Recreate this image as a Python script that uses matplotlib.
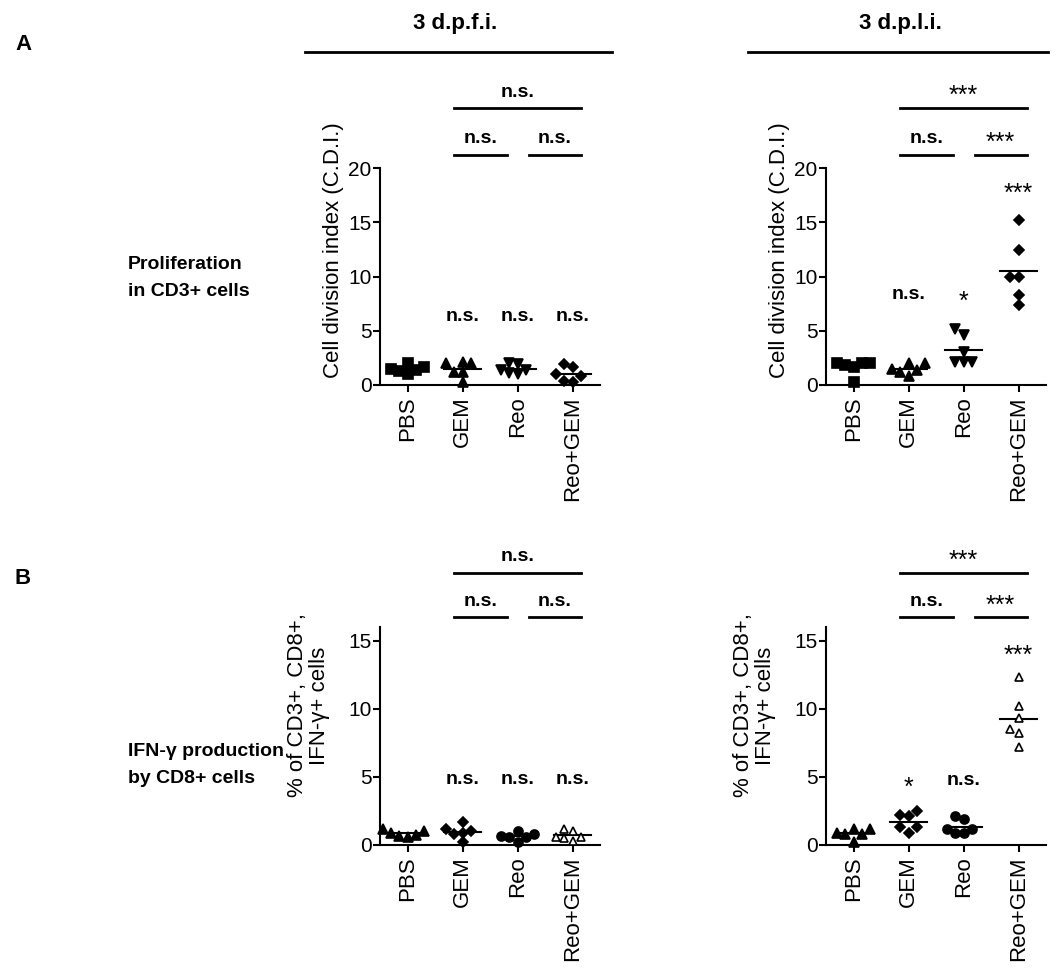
import numpy as np
import matplotlib.pyplot as plt

plt.rcParams['font.family'] = ['Liberation Sans', 'DejaVu Sans']

W, H = 1053, 976

groups = ['PBS', 'GEM', 'Reo', 'Reo+GEM']

# Cell division index, 3 d.p.f.i. / 3 d.p.l.i.
cdi_dpfi = [[2.0, 1.7, 1.5, 1.4, 1.0, 1.3],
            [2.0, 1.2, 2.0, 1.2, 0.3, 2.1],
            [2.0, 1.9, 1.4, 1.0, 1.1, 1.4],
            [1.9, 1.7, 1.0, 0.8, 0.3, 0.4]]
cdi_dpli = [[2.0, 1.8, 2.0, 2.0, 0.3, 1.7],
            [2.0, 2.0, 1.5, 1.4, 0.8, 1.2],
            [5.2, 4.6, 3.0, 2.1, 2.1, 2.1],
            [15.2, 12.4, 10.0, 10.0, 8.3, 7.4]]

# % of CD3+, CD8+, IFN-g+ cells
ifn_dpfi = [[1.0, 0.9, 1.2, 0.65, 0.6, 0.75],
            [1.7, 0.9, 1.2, 1.0, 0.8, 0.2],
            [0.65, 0.8, 1.0, 0.6, 0.25, 0.6],
            [1.2, 1.0, 0.6, 0.5, 0.3, 0.6]]
ifn_dpli = [[1.2, 1.2, 0.85, 0.8, 0.25, 0.8],
            [2.2, 2.15, 2.5, 1.3, 1.3, 0.85],
            [2.1, 1.9, 1.2, 0.85, 0.85, 1.2],
            [12.3, 10.2, 9.3, 8.5, 8.2, 7.2]]

# significance vs PBS, and between groups
sig_a_left = ['', 'n.s.', 'n.s.', 'n.s.']
sig_a_right = ['', 'n.s.', '*', '***']
sig_b_left = ['', 'n.s.', 'n.s.', 'n.s.']
sig_b_right = ['', '*', 'n.s.', '***']
brk_a_left = ['n.s.', 'n.s.', 'n.s.']     # GEM-Reo+GEM, GEM-Reo, Reo-Reo+GEM
brk_a_right = ['***', 'n.s.', '***']
brk_b_left = ['n.s.', 'n.s.', 'n.s.']
brk_b_right = ['***', 'n.s.', '***']


def swarm(vals, ythr, step=0.15):
    vals = np.asarray(vals)
    offs = np.zeros(len(vals))
    placed = []
    for i in np.argsort(vals):
        for c in [0, -step, step, -2 * step, 2 * step, -3 * step, 3 * step]:
            if all(abs(vals[i] - vals[j]) > ythr or abs(c - offs[j]) > step * 0.9 for j in placed):
                offs[i] = c
                break
        placed.append(i)
    return offs


def sig_text(ax, i, s, y):
    if s == 'n.s.':
        ax.text(i, y, s, ha='center', va='center', fontsize=14, fontweight='bold')
    elif s:
        ax.text(i, y - 0.5 * (ax.get_ylim()[1] / 20), s, ha='center', va='center', fontsize=18)


def panel(rect, data, markers, filled, ymax, yticks, ylabel, ylab_pos, sig, sig_y, brk, brk_y):
    x0, ytop, x1, ybot = rect
    ax = fig.add_axes([x0 / W, 1 - ybot / H, (x1 - x0) / W, (ybot - ytop) / H])
    ythr = ymax * 0.04
    for i, vals in enumerate(data):
        offs = swarm(vals, ythr)
        fc = 'black' if filled[i] else 'white'
        ms = 7.5 if markers[i] in ('^', 'v') else 6.5
        if markers[i] == 'D':
            ms = 5.5
        if not filled[i]:
            ms = 6
        ax.plot(i + offs, vals, linestyle='none', marker=markers[i], ms=ms,
                mfc=fc, mec='black', mew=1.2, clip_on=False, zorder=3)
        m = np.mean(vals)
        ax.plot([i - 0.33, i + 0.33], [m, m], color='black', lw=1.5, zorder=2)
    for i, s in enumerate(sig):
        if s:
            sig_text(ax, i, s, sig_y[i])
    # brackets
    spans = [(0.85, 3.15), (0.85, 1.8), (2.2, 3.15)]
    ys = [brk_y[0], brk_y[1], brk_y[1]]
    for (a, b), y, s in zip(spans, ys, brk):
        ax.plot([a, b], [y, y], color='black', lw=2, clip_on=False)
        if s == 'n.s.':
            ax.text((a + b) / 2, y + ymax * 0.035, s, ha='center', va='bottom',
                    fontsize=14, fontweight='bold')
        else:
            ax.text((a + b) / 2, y, s, ha='center', va='bottom', fontsize=18)
    ax.set_xlim(-0.5, 3.5)
    ax.set_ylim(0, ymax)
    ax.set_yticks(yticks)
    ax.set_xticks(range(4))
    ax.set_xticklabels(groups, rotation=90, fontsize=16)
    ax.tick_params(axis='y', labelsize=15, width=1.5, length=5, pad=1)
    ax.tick_params(axis='x', width=1.5, length=5, pad=3)
    for sp in ['top', 'right']:
        ax.spines[sp].set_visible(False)
    for sp in ['left', 'bottom']:
        ax.spines[sp].set_linewidth(1.5)
    ax.set_ylabel(ylabel, fontsize=16, linespacing=1.1)
    ax.yaxis.set_label_coords(*ylab_pos)
    ax.patch.set_alpha(0)
    return ax


fig = plt.figure(figsize=(W / 100, H / 100), dpi=100)

lab_a = 'Cell division index (C.D.I.)'
lab_b = '% of CD3+, CD8+,\nIFN-γ+ cells'
panel((380, 168, 600, 385), cdi_dpfi, ['s', '^', 'v', 'D'], [1, 1, 1, 1], 20, [0, 5, 10, 15, 20],
      lab_a, (-0.165, 0.62), sig_a_left, [0, 6.3, 6.3, 6.3], brk_a_left, [25.5, 21.2])
panel((826, 168, 1046, 385), cdi_dpli, ['s', '^', 'v', 'D'], [1, 1, 1, 1], 20, [0, 5, 10, 15, 20],
      lab_a, (-0.165, 0.62), sig_a_right, [0, 8.3, 8.1, 18.0], brk_a_right, [25.5, 21.2])
panel((380, 627, 600, 845), ifn_dpfi, ['^', 'D', 'o', '^'], [1, 1, 1, 0], 16, [0, 5, 10, 15],
      lab_b, (-0.225, 0.64), sig_b_left, [0, 4.8, 4.8, 4.8], brk_b_left, [20.0, 16.7])
panel((826, 627, 1046, 845), ifn_dpli, ['^', 'D', 'o', '^'], [1, 1, 1, 0], 16, [0, 5, 10, 15],
      lab_b, (-0.225, 0.64), sig_b_right, [0, 4.5, 4.75, 14.2], brk_b_right, [20.0, 16.7])

# column headers
for xc, xa, xb, label in [(455, 305, 612, '3 d.p.f.i.'), (900, 748, 1048, '3 d.p.l.i.')]:
    fig.text(xc / W, 1 - 24 / H, label, ha='center', va='center', fontsize=16, fontweight='bold')
    fig.add_artist(plt.Line2D([xa / W, xb / W], [1 - 52 / H, 1 - 52 / H], color='black', lw=2))

# panel letters and row labels
fig.text(15 / W, 1 - 45 / H, 'A', ha='left', va='center', fontsize=16, fontweight='bold')
fig.text(15 / W, 1 - 578 / H, 'B', ha='left', va='center', fontsize=16, fontweight='bold')
fig.text(128 / W, 1 - 278 / H, 'Proliferation\nin CD3+ cells', ha='left', va='center',
         fontsize=14, fontweight='bold', linespacing=1.7)
fig.text(128 / W, 1 - 765 / H, 'IFN-γ production\nby CD8+ cells', ha='left', va='center',
         fontsize=14, fontweight='bold', linespacing=1.7)

fig.savefig('out.png', dpi=100)
